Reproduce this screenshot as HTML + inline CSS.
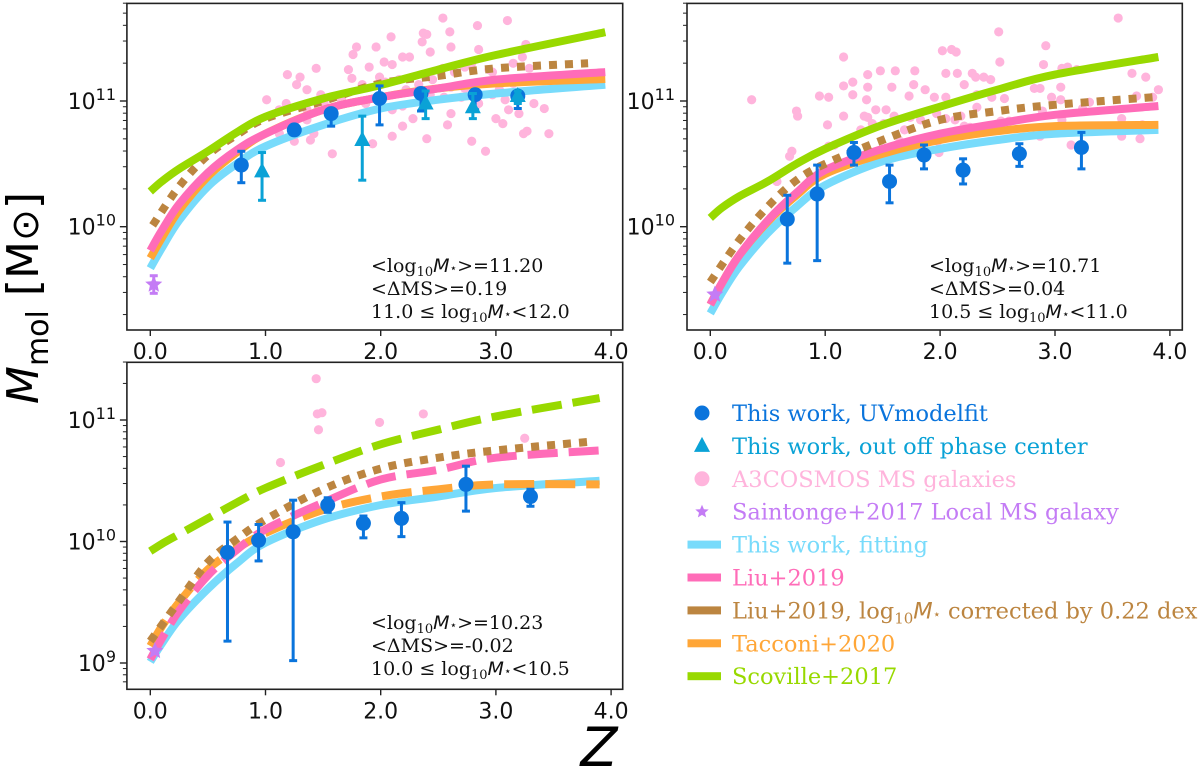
<!DOCTYPE html>
<html><head><meta charset="utf-8"><style>
html,body{margin:0;padding:0;background:#fff;}
svg{display:block;}
text{font-family:"DejaVu Sans","Liberation Sans",sans-serif;}
.serif{font-family:"DejaVu Serif","Liberation Serif",serif;}
</style></head><body>
<svg id="chart" width="1200" height="771" viewBox="0 0 1200 771" xmlns="http://www.w3.org/2000/svg"></svg>
<script>
// ---------- DATA ----------
const curveZ1 = [0.0,0.1,0.25,0.5,0.75,1.0,1.5,2.0,2.5,3.0,3.95];
const p1Cyan   = [9.67,9.83,10.05,10.32,10.50,10.64,10.81,10.94,11.01,11.06,11.13];
const p1Pink   = [9.81,9.97,10.18,10.43,10.61,10.74,10.93,11.03,11.10,11.17,11.23];
const p1Orange = [9.75,9.91,10.13,10.40,10.59,10.74,10.93,11.03,11.10,11.14,11.175];
const p1Green  = [10.28,10.36,10.46,10.60,10.75,10.875,11.02,11.127,11.25,11.366,11.547];
const brownZ1  = [0.02,0.25,0.5,0.75,1.0,1.5,2.0,2.5,3.0,3.8];
const p1Brown  = [10.01,10.32,10.57,10.73,10.86,11.0,11.14,11.2,11.26,11.30];

const curveZ2 = [0.0,0.1,0.25,0.5,0.75,1.0,1.5,2.0,2.5,3.0,3.9];
const p2Cyan   = [9.31,9.47,9.68,9.95,10.16,10.33,10.52,10.62,10.69,10.74,10.77];
const p2Pink   = [9.38,9.55,9.77,10.05,10.27,10.45,10.62,10.74,10.82,10.89,10.96];
const p2Orange = [9.38,9.55,9.77,10.04,10.25,10.42,10.58,10.69,10.76,10.80,10.81];
const p2Green  = [10.07,10.15,10.24,10.36,10.50,10.62,10.81,10.955,11.09,11.21,11.35];
const brownZ2  = [0.0,0.25,0.5,0.75,1.0,1.5,2.0,2.5,3.0,3.85];
const p2Brown  = [9.56,9.89,10.16,10.37,10.50,10.69,10.85,10.92,10.97,11.03];

const curveZ3 = [0.0,0.1,0.25,0.5,0.75,1.0,1.5,2.0,2.5,3.0,3.9];
const p3Cyan   = [9.01,9.16,9.36,9.61,9.82,9.99,10.18,10.30,10.37,10.44,10.50];
const p3Pink   = [9.03,9.20,9.43,9.72,9.93,10.10,10.32,10.51,10.59,10.69,10.75];
const p3Orange = [9.14,9.30,9.50,9.77,9.94,10.07,10.26,10.37,10.43,10.47,10.47];
const p3Green  = [9.92,9.98,10.06,10.19,10.32,10.44,10.63,10.80,10.92,11.03,11.18];
const brownZ3  = [0.0,0.25,0.5,0.75,1.0,1.5,2.0,2.5,3.0,3.8];
const p3Brown  = [9.18,9.51,9.83,10.02,10.18,10.43,10.60,10.69,10.75,10.82];

// blue circles: z, log, lo, hi
const p1CircZ  = [0.79,1.25,1.57,1.99,2.35,2.82,3.19];
const p1CircV  = [10.49,10.77,10.90,11.02,11.06,11.05,11.04];
const p1CircLo = [10.35,10.75,10.80,10.81,10.92,10.93,10.94];
const p1CircHi = [10.60,10.80,10.93,11.12,11.10,11.09,11.08];
const p1TriZ   = [0.97,1.84,2.39,2.80,3.19];
const p1TriV   = [10.44,10.69,10.98,10.95,11.04];
const p1TriLo  = [10.21,10.37,10.86,10.86,10.98];
const p1TriHi  = [10.59,10.88,11.08,11.06,11.08];
const p2CircZ  = [0.67,0.93,1.25,1.56,1.86,2.20,2.69,3.23];
const p2CircV  = [10.06,10.26,10.59,10.36,10.57,10.45,10.58,10.63];
const p2CircLo = [9.71,9.73,10.49,10.19,10.46,10.34,10.48,10.46];
const p2CircHi = [10.25,10.49,10.67,10.49,10.65,10.54,10.66,10.75];
const p3CircZ  = [0.67,0.94,1.24,1.54,1.85,2.18,2.74,3.30];
const p3CircV  = [9.91,10.01,10.08,10.30,10.15,10.19,10.47,10.37];
const p3CircLo = [9.18,9.84,9.02,10.24,10.03,10.04,10.25,10.29];
const p3CircHi = [10.16,10.14,10.34,10.36,10.21,10.32,10.62,10.43];
const starZ  = [0.03,0.04,0.04];
const starV  = [9.54,9.46,9.10];
const starLo = [9.47,9.46,9.10];
const starHi = [9.61,9.46,9.10];

const p1ScatZ = [2.54,3.10,2.84,2.60,2.37,2.40,2.09,1.96,1.79,2.36,2.43,2.61,3.26,2.85,2.19,2.25,1.76,2.03,2.10,1.90,1.72,1.44,1.19,1.30,1.27,1.36,1.48,1.75,1.84,1.99,2.04,2.16,2.22,2.33,2.45,2.54,2.64,2.73,2.79,2.94,3.15,3.29,3.21,3.29,2.61,2.73,3.03,3.15,3.08,2.97,2.85,2.70,2.55,2.43,2.19,2.10,1.87,1.66,1.51,1.36,1.12,1.01,1.18,1.45,1.36,1.42,1.39,1.12,1.25,1.58,1.93,2.10,2.19,2.28,2.40,2.58,2.61,2.79,2.91,3.00,3.06,3.20,3.24,3.27,3.42,3.46,3.33,3.11,2.97,3.23];
const p1ScatV = [11.66,11.64,11.60,11.55,11.54,11.53,11.51,11.43,11.43,11.47,11.39,11.43,11.45,11.41,11.35,11.35,11.37,11.31,11.29,11.27,11.25,11.26,11.21,11.19,11.13,11.09,11.05,11.18,11.13,11.19,11.15,11.17,11.09,11.13,11.17,11.26,11.23,11.27,11.30,11.25,11.30,11.26,11.17,11.17,11.11,11.10,11.09,11.14,11.01,11.05,10.98,11.03,11.03,11.05,10.96,10.93,10.98,11.01,10.98,10.93,10.93,11.01,10.98,10.92,10.85,10.74,10.69,10.74,10.68,10.58,10.66,10.72,10.80,10.86,10.70,10.81,10.90,10.68,10.60,10.86,10.82,10.90,10.74,10.76,10.94,10.74,10.98,10.93,11.23,11.35];
const p2ScatZ = [3.55,2.51,2.92,2.02,2.10,2.14,1.16,2.52,2.90,1.48,1.61,1.78,1.37,2.05,2.15,2.28,2.31,2.38,2.44,1.24,3.06,3.11,3.19,3.67,3.79,1.16,1.37,1.58,1.77,2.21,2.82,2.87,3.05,1.24,0.95,1.03,0.36,1.73,1.87,1.95,2.05,2.32,2.45,2.56,2.97,3.05,3.71,3.85,3.90,1.36,1.44,1.53,2.32,3.30,0.75,0.76,1.16,1.34,1.37,1.60,1.74,1.83,1.97,2.05,2.13,2.18,2.26,2.53,2.60,2.89,3.06,3.24,1.02,1.31,1.41,1.51,1.69,2.14,2.21,2.87,3.05,3.26,3.58,3.76,3.58,3.74,1.65,1.81,1.98,1.03,1.08,0.71,0.69,0.58,1.99,3.14];
const p2ScatV = [11.66,11.55,11.44,11.40,11.41,11.39,11.35,11.31,11.29,11.24,11.24,11.24,11.21,11.22,11.22,11.22,11.19,11.19,11.17,11.15,11.26,11.27,11.25,11.22,11.19,11.12,11.11,11.11,11.13,11.13,11.10,11.10,11.11,11.05,11.04,11.03,11.01,11.04,11.09,11.03,11.03,11.05,11.03,11.02,11.03,11.01,11.04,11.03,11.09,11.01,10.93,10.93,10.95,10.99,10.92,10.88,10.88,10.88,10.87,10.88,10.87,10.85,10.90,10.86,10.85,10.88,10.79,10.84,10.84,10.92,10.85,10.94,10.81,10.77,10.82,10.82,10.77,10.72,10.80,10.72,10.77,10.78,10.86,10.81,10.72,10.70,10.68,10.68,10.68,10.64,10.65,10.60,10.56,10.36,10.59,10.65];
const p3ScatZ = [1.44,1.45,1.49,1.46,1.99,2.37,1.13,3.25];
const p3ScatV = [11.34,11.05,11.06,10.92,10.98,11.05,10.65,10.85];

const xTicks = [0,1,2,3,4];
const xTickLabels = ["0.0","1.0","2.0","3.0","4.0"];

// ---------- COLORS ----------
const C = {blue:"#0a74dc",tri:"#0aa2d6",sc:"#ffb4dc",star:"#c47cf5",cyan:"#78dbfb",pink:"#ff6cb8",brown:"#bc8540",orange:"#ffa637",green:"#98d900"};

const svg = document.getElementById('chart');
const NS = "http://www.w3.org/2000/svg";
function mk(tag, attrs, parent){
  const e = document.createElementNS(NS, tag);
  for (const k in attrs) e.setAttribute(k, attrs[k]);
  (parent||svg).appendChild(e);
  return e;
}

const panels = [
  {name:"panel-high-mass", x0:126.9, x1:622.7, y0:3.4, y1:330, zx0:150.3, zs:115.2, ly11:101, ld:125.7, yMin:9, yMax:12, labs:[10,11], labX:116, annX:371, annY:265,
   ann:["11.20","0.19","11.0","12.0"]},
  {name:"panel-mid-mass", x0:687, x1:1182.3, y0:3.4, y1:330, zx0:710.3, zs:114.9, ly11:101, ld:125.7, yMin:9, yMax:12, labs:[10,11], labX:675, annX:929, annY:265,
   ann:["10.71","0.04","10.5","11.0"]},
  {name:"panel-low-mass", x0:126.9, x1:622.7, y0:362.3, y1:689.3, zx0:150.3, zs:115.2, ly11:420, ld:121.5, yMin:8, yMax:12, labs:[9,10,11], labX:116, annX:371, annY:622,
   ann:["10.23","-0.02","10.0","10.5"]}
];

function cardinal(pts){
  let d = "M"+pts[0][0].toFixed(1)+","+pts[0][1].toFixed(1);
  for (let i=0;i<pts.length-1;i++){
    const p0=pts[Math.max(0,i-1)], p1=pts[i], p2=pts[i+1], p3=pts[Math.min(pts.length-1,i+2)];
    const t=1/6;
    const c1=[p1[0]+(p2[0]-p0[0])*t, p1[1]+(p2[1]-p0[1])*t];
    const c2=[p2[0]-(p3[0]-p1[0])*t, p2[1]-(p3[1]-p1[1])*t];
    d += " C"+c1[0].toFixed(1)+","+c1[1].toFixed(1)+" "+c2[0].toFixed(1)+","+c2[1].toFixed(1)+" "+p2[0].toFixed(1)+","+p2[1].toFixed(1);
  }
  return d;
}

function drawPanel(P, curves, scat, circ, tri, star){
  const sx = z => P.zx0 + P.zs*z;
  const sy = v => P.ly11 + (11 - v)*P.ld;
  const g = mk('g',{});
  
  
  const clipId = "clip-"+P.name;
  const cp = mk('clipPath',{id:clipId}, g);
  mk('rect',{x:P.x0,y:P.y0,width:P.x1-P.x0,height:P.y1-P.y0}, cp);
  const plot = mk('g',{'clip-path':'url(#'+clipId+')'}, g);

  const sg = mk('g',{}, plot);
  
  
  for (let i=0;i<scat[0].length;i++){
    const c = mk('circle',{cx:sx(scat[0][i]),cy:sy(scat[1][i]),r:4.6,fill:C.sc}, sg);
    
    
  }
  curves.forEach(cv=>{
    const pts = cv.z.map((z,i)=>[sx(z), sy(cv.v[i])]);
    const p = mk('path',{d:cardinal(pts),fill:'none',stroke:cv.color,'stroke-width':cv.w||8,'stroke-dasharray':cv.dash||'none'}, plot);
    
    
  });
  function errs(set, color, shape, nm){
    const [zs,vs,lo,hi] = set;
    for (let i=0;i<zs.length;i++){
      const x=sx(zs[i]);
      if (hi[i]!==lo[i]){
        mk('line',{x1:x,x2:x,y1:sy(hi[i]),y2:sy(lo[i]),stroke:color,'stroke-width':3}, plot);
        mk('line',{x1:x-4,x2:x+4,y1:sy(hi[i]),y2:sy(hi[i]),stroke:color,'stroke-width':3}, plot);
        mk('line',{x1:x-4,x2:x+4,y1:sy(lo[i]),y2:sy(lo[i]),stroke:color,'stroke-width':3}, plot);
      }
      const y=sy(vs[i]);
      let m;
      if (shape==='circle') m = mk('circle',{cx:x,cy:y,r:7.5,fill:color}, plot);
      else if (shape==='tri') m = mk('polygon',{points:(x)+","+(y-9)+" "+(x-8)+","+(y+6)+" "+(x+8)+","+(y+6),fill:color}, plot);
      else m = starShape(x,y,9,plot);
      
      
    }
  }
  errs(circ, C.blue, 'circle', 'uvmodelfit-point');
  if (tri) errs(tri, C.tri, 'tri', 'off-phase-center-point');
  errs(star, C.star, 'star', 'saintonge-local-point');

  const fr = mk('rect',{x:P.x0,y:P.y0,width:P.x1-P.x0,height:P.y1-P.y0,fill:'none',stroke:'#222','stroke-width':1.6}, g);
  
  
  xTicks.forEach((t,i)=>{
    const x=sx(t);
    mk('line',{x1:x,x2:x,y1:P.y1,y2:P.y1+6,stroke:'#222','stroke-width':1.4}, g);
    const tx = mk('text',{x:x,y:P.y1+29,'font-size':22,'text-anchor':'middle',fill:'#111'}, g);
    tx.textContent = xTickLabels[i];
    
    
  });
  for (let e=P.yMin;e<P.yMax;e++){
    for (let m=1;m<10;m++){
      const v=e+Math.log10(m), y=sy(v);
      if (y<P.y0-0.5||y>P.y1+0.5) continue;
      mk('line',{x1:P.x0-(m===1?7:4),x2:P.x0,y1:y,y2:y,stroke:'#222','stroke-width':m===1?1.4:1}, g);
    }
  }
  P.labs.forEach(e=>{
    const y=sy(e);
    const t = mk('text',{x:P.labX,y:y+8,'font-size':22,'text-anchor':'end',fill:'#111'}, g);
    
    
    const a=mk('tspan',{},t); a.textContent="10";
    const b=mk('tspan',{dy:-9,'font-size':16},t); b.textContent=String(e);
  });
  const an = mk('g',{}, g);
  
  
  const l1 = mk('text',{x:P.annX,y:P.annY+7,'font-size':19,fill:'#111',class:'serif'}, an);
  l1.innerHTML = '&lt;log<tspan font-size="13" dy="4">10</tspan><tspan dy="-4" font-style="italic" font-family="DejaVu Sans">M</tspan><tspan font-size="12">⋆</tspan>&gt;='+P.ann[0];
  const l2 = mk('text',{x:P.annX,y:P.annY+30,'font-size':19,fill:'#111',class:'serif'}, an);
  l2.textContent = '<ΔMS>='+P.ann[1];
  const l3 = mk('text',{x:P.annX,y:P.annY+53,'font-size':19,fill:'#111',class:'serif'}, an);
  l3.innerHTML = P.ann[2]+' ≤ log<tspan font-size="13" dy="4">10</tspan><tspan dy="-4" font-style="italic" font-family="DejaVu Sans">M</tspan><tspan font-size="12">⋆</tspan>&lt;'+P.ann[3];
}

function starShape(x,y,r,parent){
  let pts=[];
  for(let i=0;i<10;i++){
    const a=-Math.PI/2+i*Math.PI/5, rr=i%2?r*0.45:r;
    pts.push((x+rr*Math.cos(a)).toFixed(1)+","+(y+rr*Math.sin(a)).toFixed(1));
  }
  return mk('polygon',{points:pts.join(" "),fill:C.star}, parent);
}

drawPanel(panels[0], [
  {name:'fit-curve',z:curveZ1,v:p1Cyan,color:C.cyan},
  {name:'tacconi2020-curve',z:curveZ1,v:p1Orange,color:C.orange},
  {name:'liu2019-curve',z:curveZ1,v:p1Pink,color:C.pink},
  {name:'liu2019-corrected-curve',z:brownZ1,v:p1Brown,color:C.brown,dash:'8 8'},
  {name:'scoville2017-curve',z:curveZ1,v:p1Green,color:C.green}
], [p1ScatZ,p1ScatV], [p1CircZ,p1CircV,p1CircLo,p1CircHi], [p1TriZ,p1TriV,p1TriLo,p1TriHi], [[starZ[0]],[starV[0]],[starLo[0]],[starHi[0]]]);

drawPanel(panels[1], [
  {name:'fit-curve',z:curveZ2,v:p2Cyan,color:C.cyan},
  {name:'tacconi2020-curve',z:curveZ2,v:p2Orange,color:C.orange},
  {name:'liu2019-curve',z:curveZ2,v:p2Pink,color:C.pink},
  {name:'liu2019-corrected-curve',z:brownZ2,v:p2Brown,color:C.brown,dash:'8 8'},
  {name:'scoville2017-curve',z:curveZ2,v:p2Green,color:C.green}
], [p2ScatZ,p2ScatV], [p2CircZ,p2CircV,p2CircLo,p2CircHi], null, [[starZ[1]],[starV[1]],[starLo[1]],[starHi[1]]]);

drawPanel(panels[2], [
  {name:'fit-curve',z:curveZ3,v:p3Cyan,color:C.cyan},
  {name:'tacconi2020-curve',z:curveZ3,v:p3Orange,color:C.orange,dash:'30 11'},
  {name:'liu2019-curve',z:curveZ3,v:p3Pink,color:C.pink,dash:'30 11'},
  {name:'liu2019-corrected-curve',z:brownZ3,v:p3Brown,color:C.brown,dash:'8 8'},
  {name:'scoville2017-curve',z:curveZ3,v:p3Green,color:C.green,dash:'30 11'}
], [p3ScatZ,p3ScatV], [p3CircZ,p3CircV,p3CircLo,p3CircHi], null, [[starZ[2]],[starV[2]],[starLo[2]],[starHi[2]]]);

const yl = mk('text',{x:0,y:0,'font-size':44,fill:'#000','text-anchor':'middle',transform:'translate(38,298) rotate(-90)'});
yl.innerHTML = '<tspan font-style="italic">M</tspan><tspan font-size="30" dy="10">mol</tspan><tspan dy="-10"> [M</tspan><tspan font-size="38">⊙</tspan>]';


const xl = mk('text',{x:599,y:766,'font-size':54,'font-style':'italic',fill:'#000','text-anchor':'middle'});
xl.textContent = 'Z';



const legLabels = ["This work, UVmodelfit","This work, out off phase center","A3COSMOS MS galaxies","Saintonge+2017 Local MS galaxy","This work, fitting","Liu+2019","LIU_CORR","Tacconi+2020","Scoville+2017"];
const legColors = [C.blue,C.tri,C.sc,C.star,C.cyan,C.pink,C.brown,C.orange,C.green];
const legKinds = ['circle','tri','dot','star','line','line','line','line','line'];
const lg = mk('g',{});


legLabels.forEach((lab,i)=>{
  const y = 413 + i*32.9;
  const it = mk('g',{}, lg);
  
  
  const k=legKinds[i], col=legColors[i];
  if (k==='circle' || k==='dot') mk('circle',{cx:702,cy:y,r:7.5,fill:col},it);
  else if (k==='tri') mk('polygon',{points:"702,"+(y-9)+" 694,"+(y+6)+" 710,"+(y+6),fill:col},it);
  else if (k==='star') starShape(702,y,7,it);
  else mk('rect',{x:687.5,y:y-4,width:33.5,height:8,fill:col},it);
  const t = mk('text',{x:732,y:y+8,'font-size':22.5,fill:col,class:'serif'},it);
  if (lab==="LIU_CORR") t.innerHTML='Liu+2019, log<tspan font-size="15" dy="5">10</tspan><tspan dy="-5" font-style="italic" font-family="DejaVu Sans">M</tspan><tspan font-size="13">⋆</tspan> corrected by 0.22 dex';
  else t.textContent = lab;
});
</script>
</body></html>
